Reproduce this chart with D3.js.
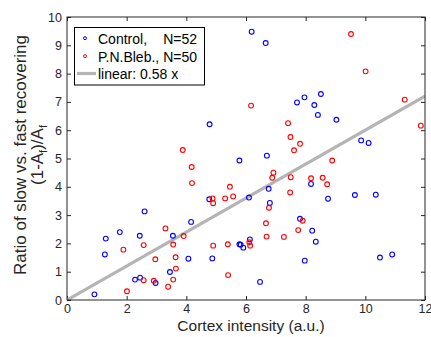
<!DOCTYPE html>
<html>
<head>
<meta charset="utf-8">
<script src="https://cdn.jsdelivr.net/npm/d3@7"></script>
<style>
    body { margin: 0; background: #fff; }
    #chart { width: 431px; height: 337px; }
    text { font-family: "Liberation Sans", Arial, sans-serif; fill: #262626; }
    .axis text { font-size: 12.5px; }
    .axis line { stroke: #262626; }
    .axis-label { font-size: 15.5px; }
    .legend-text { font-size: 14px; fill: #000; }
</style>
</head>
<body>
<div id="chart"></div>
<script>
// Control cells (blue)
var controlX = [0.92, 1.27, 1.30, 1.77, 2.44, 2.60, 2.28, 2.45, 2.97, 3.55, 3.45, 4.07, 4.16, 4.77, 4.87,
    4.78, 5.78, 5.78, 5.82, 5.91, 6.13, 6.10, 6.47, 6.76, 6.80, 7.81, 7.97, 8.18, 8.22, 8.34, 8.75,
    9.65, 10.35, 10.49, 10.90, 6.19, 6.66, 7.71, 7.96, 8.29, 8.51, 8.41, 9.03, 9.86, 10.11, 6.70];
var controlY = [0.20, 1.61, 2.17, 2.40, 2.27, 3.13, 0.72, 0.79, 0.60, 2.27, 0.99, 1.46, 2.76, 3.56, 1.47,
    6.21, 4.93, 1.97, 1.95, 1.85, 2.14, 3.62, 0.64, 3.93, 3.43, 2.87, 1.39, 4.10, 2.45, 2.06, 3.58,
    3.71, 3.72, 1.50, 1.61, 9.48, 9.08, 6.98, 7.16, 6.89, 7.28, 6.54, 6.37, 5.64, 5.55, 5.10];

// P.N.Blebbistatin cells (red)
var blebX = [2.01, 1.89, 2.57, 2.57, 2.91, 2.96, 3.30, 3.39, 3.56, 3.64, 3.65, 3.56, 3.91, 4.18, 4.19,
    3.88, 4.88, 4.90, 4.90, 5.30, 5.46, 5.57, 5.39, 5.40, 6.11, 6.14, 6.67, 6.69, 6.77, 6.88, 6.92,
    7.27, 7.48, 7.50, 7.75, 7.90, 8.18, 8.57, 8.72, 8.89, 6.17, 7.41, 7.49, 7.81, 7.61, 9.52, 10.01,
    11.32, 11.86];
var blebY = [0.31, 1.78, 1.94, 0.70, 0.68, 1.44, 2.53, 0.47, 1.96, 1.51, 1.11, 0.72, 2.26, 4.70, 4.13,
    5.30, 3.59, 3.42, 1.92, 3.59, 4.00, 3.66, 1.97, 0.88, 2.04, 1.92, 2.71, 2.24, 3.26, 4.32, 4.50,
    2.23, 3.80, 4.34, 2.47, 2.80, 4.30, 4.32, 4.09, 4.93, 6.87, 6.25, 5.76, 5.52, 5.29, 9.40, 8.08,
    7.08, 6.16];

var xTicks = [0, 2, 4, 6, 8, 10, 12];
var yTicks = [0, 1, 2, 3, 4, 5, 6, 7, 8, 9, 10];

var legendLabels = ["Control,", "P.N.Bleb.,", "linear: 0.58 x"];
var legendCounts = ["N=52", "N=50"];

var fitSlope = 0.6;   // slope of the drawn line

ScatterChart = function(_parentElement) {
    this.parentElement = _parentElement;
    this.control = controlX.map(function(x, i) { return { x: x, y: controlY[i] }; });
    this.bleb = blebX.map(function(x, i) { return { x: x, y: blebY[i] }; });
    this.initVis();
};

ScatterChart.prototype.initVis = function() {
    var vis = this;

    vis.margin = { top: 17, right: 6, bottom: 37, left: 67 };
    vis.width = 431 - vis.margin.left - vis.margin.right;
    vis.height = 337 - vis.margin.top - vis.margin.bottom;

    vis.root = d3.select('#' + vis.parentElement)
        .append('svg')
        .attr('width', 431)
        .attr('height', 337);

    vis.svg = vis.root.append('g')
        .attr('transform', "translate(" + vis.margin.left + "," + vis.margin.top + ")");

    vis.xScale = d3.scaleLinear().domain([0, 12]).range([0, vis.width]);
    vis.yScale = d3.scaleLinear().domain([0, 10]).range([vis.height, 0]);

    vis.svg.append("clipPath").attr("id", "plot-clip")
        .append("rect").attr("width", vis.width).attr("height", vis.height);

    // axes with inward ticks on all four sides
    vis.svg.append("g")
        .attr("class", "axis")
        .attr("transform", "translate(0," + vis.height + ")")
        .call(d3.axisBottom(vis.xScale).tickValues(xTicks).tickSizeInner(-4).tickSizeOuter(0).tickPadding(4));
    vis.svg.append("g")
        .attr("class", "axis")
        .call(d3.axisTop(vis.xScale).tickValues(xTicks).tickSizeInner(-4).tickSizeOuter(0).tickFormat(""));
    vis.svg.append("g")
        .attr("class", "axis")
        .call(d3.axisLeft(vis.yScale).tickValues(yTicks).tickSizeInner(-4).tickSizeOuter(0).tickPadding(5));
    vis.svg.append("g")
        .attr("class", "axis")
        .attr("transform", "translate(" + vis.width + ",0)")
        .call(d3.axisRight(vis.yScale).tickValues(yTicks).tickSizeInner(-4).tickSizeOuter(0).tickFormat(""));
    vis.svg.selectAll(".axis .domain").remove();

    // fit line
    vis.svg.append("line")
        .attr("clip-path", "url(#plot-clip)")
        .attr("x1", vis.xScale(0))
        .attr("y1", vis.yScale(0))
        .attr("x2", vis.xScale(12))
        .attr("y2", vis.yScale(fitSlope * 12))
        .attr("stroke", "#b4b4b4")
        .attr("stroke-width", 3.2);

    vis.svg.append("rect")
        .attr("width", vis.width)
        .attr("height", vis.height)
        .attr("fill", "none")
        .attr("stroke", "#262626")
        .attr("stroke-width", 1);

    vis.svg.append('text')
        .attr('class', 'axis-label')
        .attr('text-anchor', 'middle')
        .attr('x', vis.width / 2 + 5)
        .attr('y', vis.height + 31)
        .text("Cortex intensity (a.u.)");

    var yLab = vis.root.append('g')
        .attr('transform', "translate(0,155) rotate(-90)");
    yLab.append('text')
        .attr('class', 'axis-label')
        .attr('text-anchor', 'middle')
        .attr('y', 25.5)
        .style('font-size', '17px')
        .text("Ratio of slow vs. fast recovering");
    var l2 = yLab.append('text')
        .attr('class', 'axis-label')
        .attr('text-anchor', 'middle')
        .attr('y', 43)
        .style('font-size', '17px');
    l2.append('tspan').text("(1-A");
    l2.append('tspan').attr('dy', 4).style('font-size', '11px').text("f");
    l2.append('tspan').attr('dy', -4).text(")/A");
    l2.append('tspan').attr('dy', 4).style('font-size', '11px').text("f");

    vis.updateChart();
};

ScatterChart.prototype.updateChart = function() {
    var vis = this;

    vis.svg.selectAll(".control-point")
        .data(vis.control)
        .enter()
        .append("circle")
        .attr("class", "control-point")
        .attr("cx", function(d) { return vis.xScale(d.x); })
        .attr("cy", function(d) { return vis.yScale(d.y); })
        .attr("r", 2.4)
        .attr("fill", "none")
        .attr("stroke", "#0000ff")
        .attr("stroke-width", 1.1);

    vis.svg.selectAll(".bleb-point")
        .data(vis.bleb)
        .enter()
        .append("circle")
        .attr("class", "bleb-point")
        .attr("cx", function(d) { return vis.xScale(d.x); })
        .attr("cy", function(d) { return vis.yScale(d.y); })
        .attr("r", 2.4)
        .attr("fill", "none")
        .attr("stroke", "#ff0000")
        .attr("stroke-width", 1.1);

    // legend
    var lg = vis.root.append("g");
    lg.append("rect")
        .attr("x", 74.5).attr("y", 27.5)
        .attr("width", 130).attr("height", 57.5)
        .attr("fill", "#fff")
        .attr("stroke", "#000")
        .attr("stroke-width", 1);

    var rowY = [43.5, 61.5, 79];
    var colors = ["#0000ff", "#ff0000"];

    legendLabels.forEach(function(lbl, i) {
        lg.append("text")
            .attr("class", "legend-text")
            .attr("x", 98)
            .attr("y", rowY[i])
            .text(lbl);
        if (i < 2) {
            lg.append("circle")
                .attr("cx", 85).attr("cy", rowY[i] - 5.3)
                .attr("r", 1.5)
                .attr("fill", "none")
                .attr("stroke", colors[i])
                .attr("stroke-width", 1);
        } else {
            lg.append("line")
                .attr("x1", 77).attr("x2", 96)
                .attr("y1", rowY[i] - 5.5).attr("y2", rowY[i] - 5.5)
                .attr("stroke", "#b4b4b4")
                .attr("stroke-width", 3.2);
        }
    });

    // counts line up after the longest label
    var countX = 98 + lg.selectAll(".legend-text").nodes()[1].getComputedTextLength() + 4;
    legendCounts.forEach(function(c, i) {
        lg.append("text")
            .attr("class", "legend-text")
            .attr("x", countX)
            .attr("y", rowY[i])
            .text(c);
    });
};

new ScatterChart("chart");
</script>
</body>
</html>
